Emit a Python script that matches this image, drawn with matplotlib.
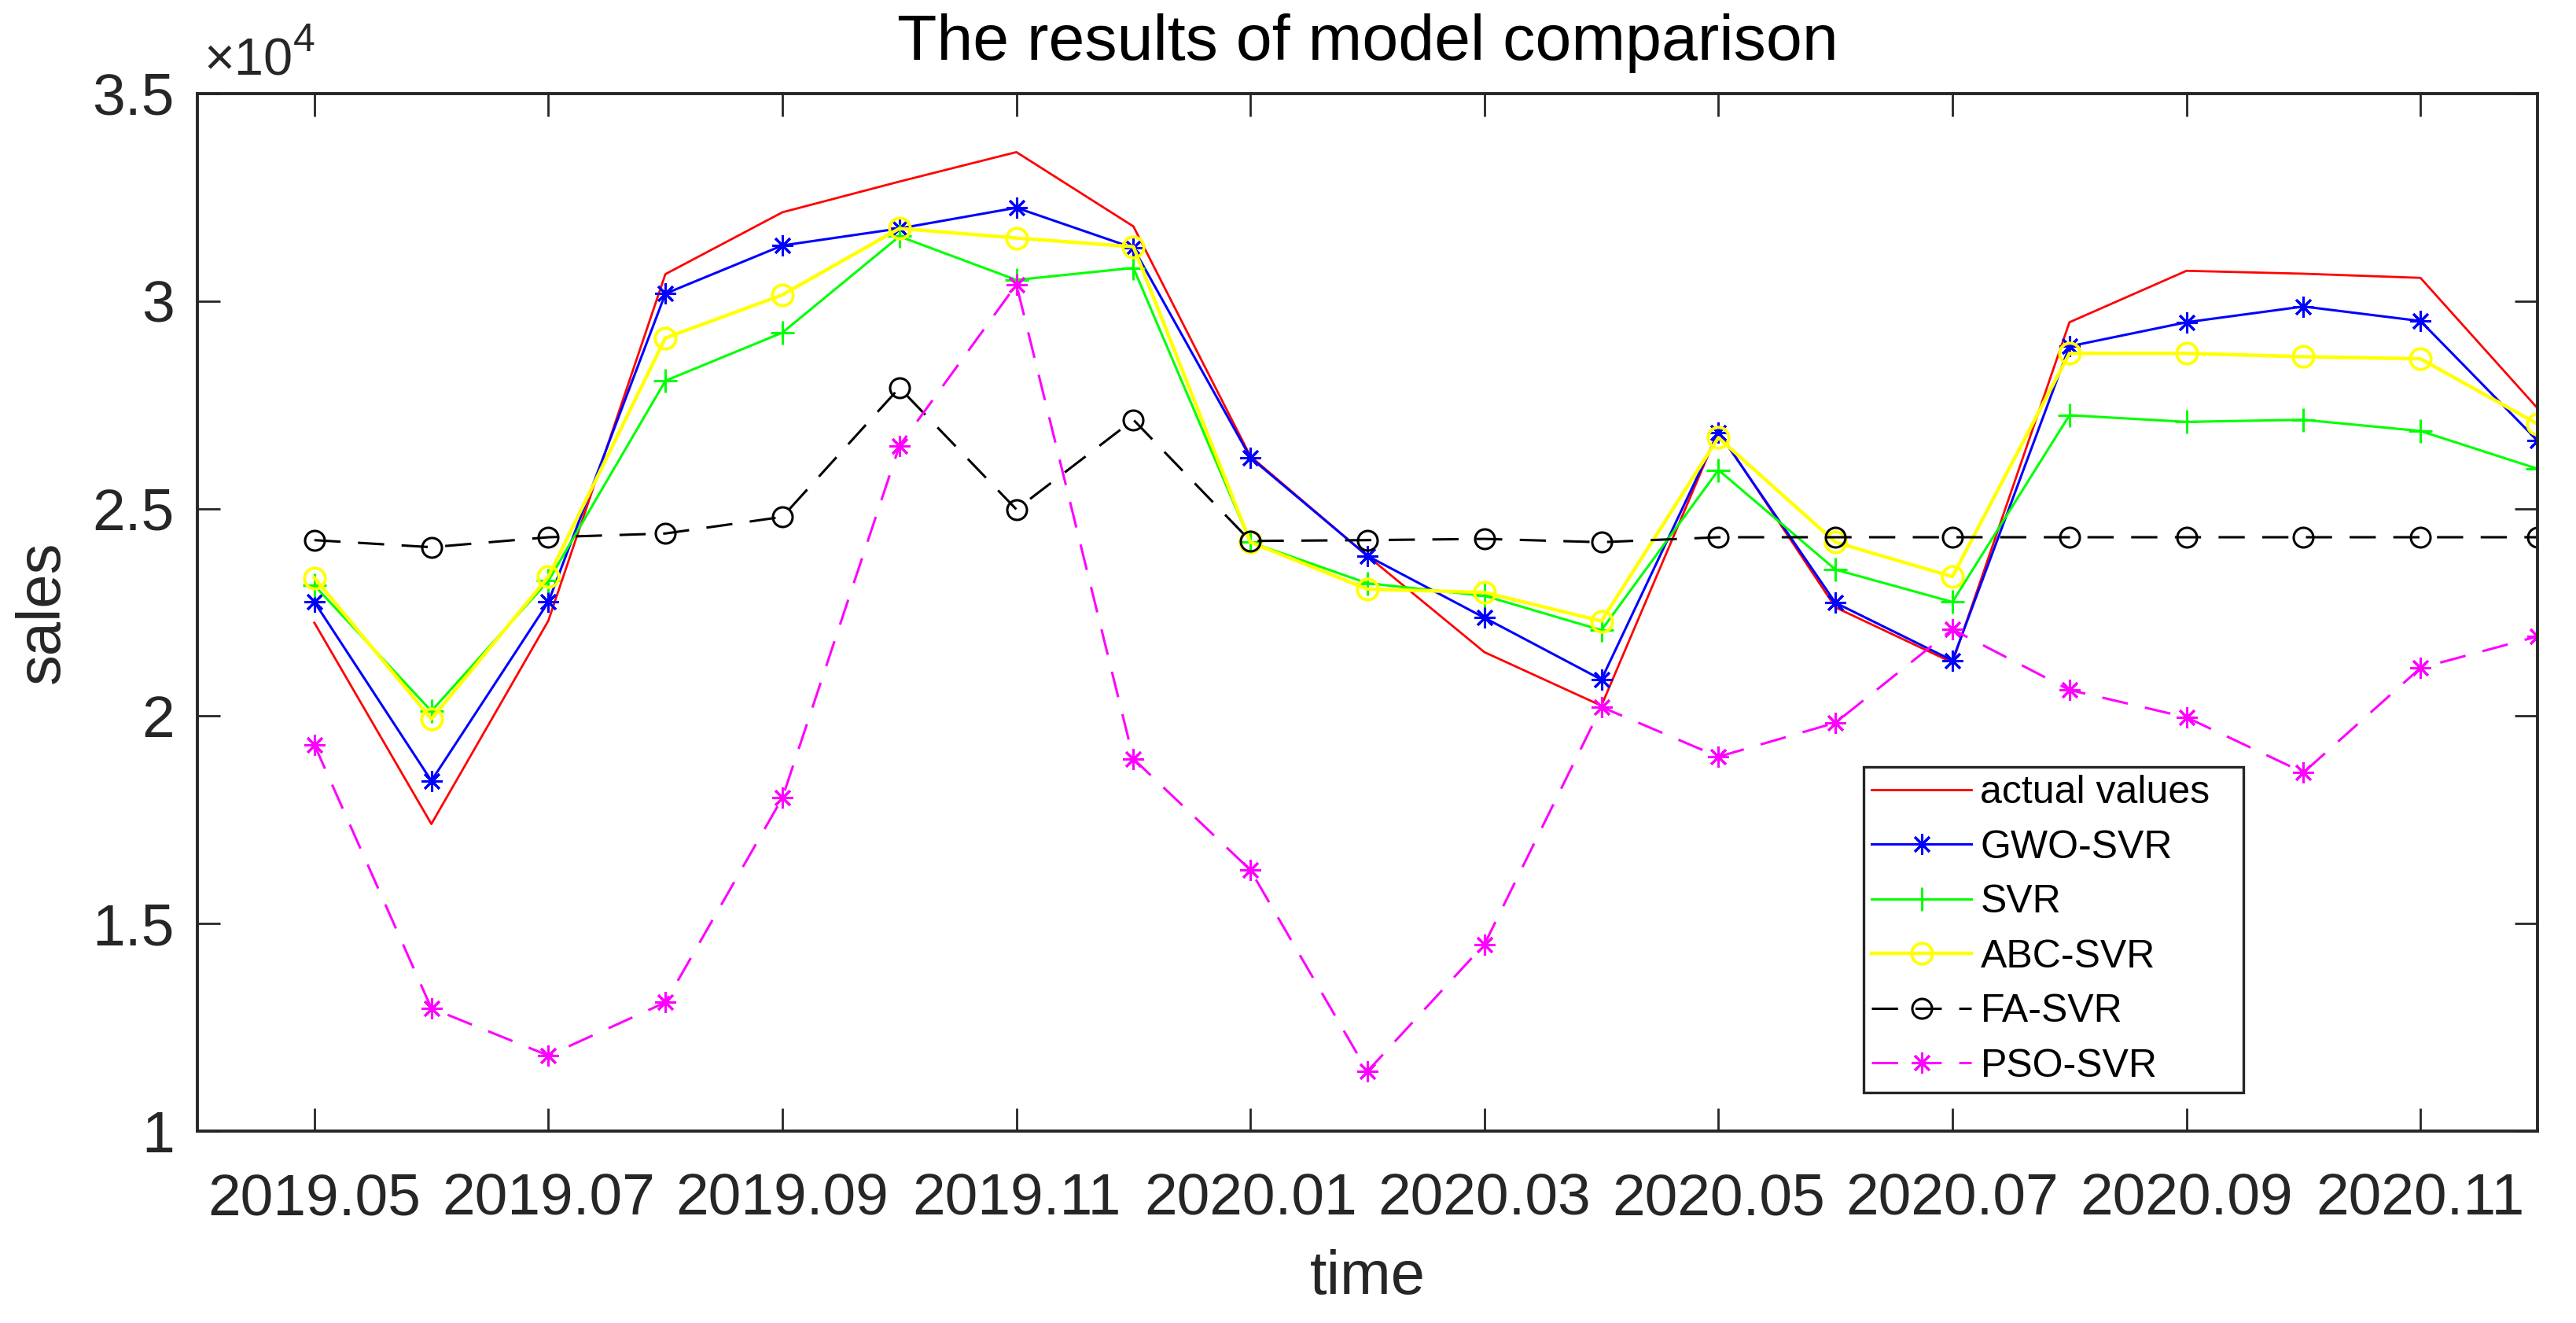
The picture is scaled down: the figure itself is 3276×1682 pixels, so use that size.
import matplotlib
matplotlib.use("Agg")
import matplotlib.pyplot as plt
from matplotlib.ticker import FuncFormatter

plt.rcParams['font.family'] = ['Liberation Sans', 'DejaVu Sans']
plt.rcParams['lines.scale_dashes'] = False

months = ["2019.05", "2019.06", "2019.07", "2019.08", "2019.09", "2019.10", "2019.11", "2019.12",
          "2020.01", "2020.02", "2020.03", "2020.04", "2020.05", "2020.06", "2020.07", "2020.08",
          "2020.09", "2020.10", "2020.11", "2020.12"]

actual = [22250, 17400, 22300, 30650, 32140, 32880, 33590, 31800, 26260, 23860,
          21540, 20250, 26870, 22620, 21290, 29490, 30730, 30660, 30560, 27420]
gwo = [22750, 18440, 22750, 30180, 31340, 31750, 32250, 31280, 26230, 23860,
       22370, 20880, 26840, 22730, 21340, 28910, 29490, 29870, 29520, 26640]
svr = [23150, 20120, 23260, 28080, 29240, 31560, 30510, 30800, 24190, 23200,
       22900, 22070, 25930, 23530, 22750, 27250, 27090, 27140, 26870, 25960]
abc = [23330, 19930, 23360, 29110, 30150, 31750, 31520, 31310, 24190, 23060,
       22980, 22290, 26710, 24190, 23360, 28740, 28740, 28660, 28610, 27040]
fa = [24240, 24070, 24310, 24400, 24800, 27910, 24980, 27140, 24220, 24240,
      24270, 24190, 24310, 24310, 24310, 24310, 24310, 24310, 24310, 24310]
pso = [19310, 12960, 11820, 13100, 18030, 26510, 30400, 18970, 16290, 11440,
       14500, 20220, 19020, 19840, 22090, 20630, 19970, 18640, 21160, 21920]

labels = ["actual values", "GWO-SVR", "SVR", "ABC-SVR", "FA-SVR", "PSO-SVR"]

W, H = 3276, 1682
dpi = 200
fig = plt.figure(figsize=(W / dpi, H / dpi), dpi=dpi)
L, R, T, B = 251, 3227, 119, 1438
ax = fig.add_axes([L / W, 1 - B / H, (R - L) / W, (B - T) / H])

x = list(range(len(months)))
ast = (8, 2, 0)
ax.plot(x, actual, color=(1, 0, 0), lw=1.0, label=labels[0])
ax.plot(x, gwo, color=(0, 0, 1), lw=1.1, marker=ast, ms=9.5, mew=1.1, label=labels[1])
ax.plot(x, svr, color=(0, 1, 0), lw=1.1, marker='+', ms=11, mew=1.1, label=labels[2])
ax.plot(x, abc, color=(1, 1, 0), lw=1.6, marker='o', ms=9.5, mfc='none', mew=1.4, label=labels[3])
ax.plot(x, fa, color='k', lw=1.1, ls=(0, (12, 8)), marker='o', ms=9, mfc='none', mew=1.1, label=labels[4])
ax.plot(x, pso, color=(1, 0, 1), lw=1.1, ls=(0, (12, 8)), marker=ast, ms=9.5, mew=1.1, label=labels[5])

ax.set_xlim(-1, len(months) - 1)
ax.set_ylim(10000, 35000)
ax.set_xticks(x[::2])
ax.set_xticklabels(months[::2])
ax.set_yticks([10000, 15000, 20000, 25000, 30000, 35000])
ax.yaxis.set_major_formatter(FuncFormatter(lambda v, p: f"{v / 1e4:g}"))

axc = (0.15, 0.15, 0.15)
for s in ax.spines.values():
    s.set_linewidth(1.4)
    s.set_color(axc)
ax.tick_params(direction='in', length=10.5, width=1.0, top=True, right=True,
               labelsize=27, colors=axc)
ax.tick_params(axis='x', pad=19)
ax.tick_params(axis='y', pad=10.5)

ax.annotate("\u00d710", xy=(0, 1), xycoords='axes fraction', xytext=(3, 8.5),
            textcoords='offset points', fontsize=24, ha='left', va='baseline', color=axc)
ax.annotate("4", xy=(0, 1), xycoords='axes fraction', xytext=(44, 19.5),
            textcoords='offset points', fontsize=18, ha='left', va='baseline', color=axc)

ax.set_title("The results of model comparison", fontsize=29.7, color='k', pad=15.5)
ax.set_xlabel("time", fontsize=28, color=axc, labelpad=10)
ax.set_ylabel("sales", fontsize=28, color=axc, labelpad=9.5)

leg = ax.legend(loc='upper left', bbox_to_anchor=(0.712, 0.0, 0.1623, 0.351), mode='expand',
                borderaxespad=0, fontsize=18, handlelength=2.55, labelspacing=0.47,
                borderpad=0.2, handletextpad=0.22, fancybox=False, framealpha=1,
                edgecolor=axc)
leg.get_frame().set_linewidth(1.2)

fig.savefig("out.png", dpi=dpi, facecolor='white')
